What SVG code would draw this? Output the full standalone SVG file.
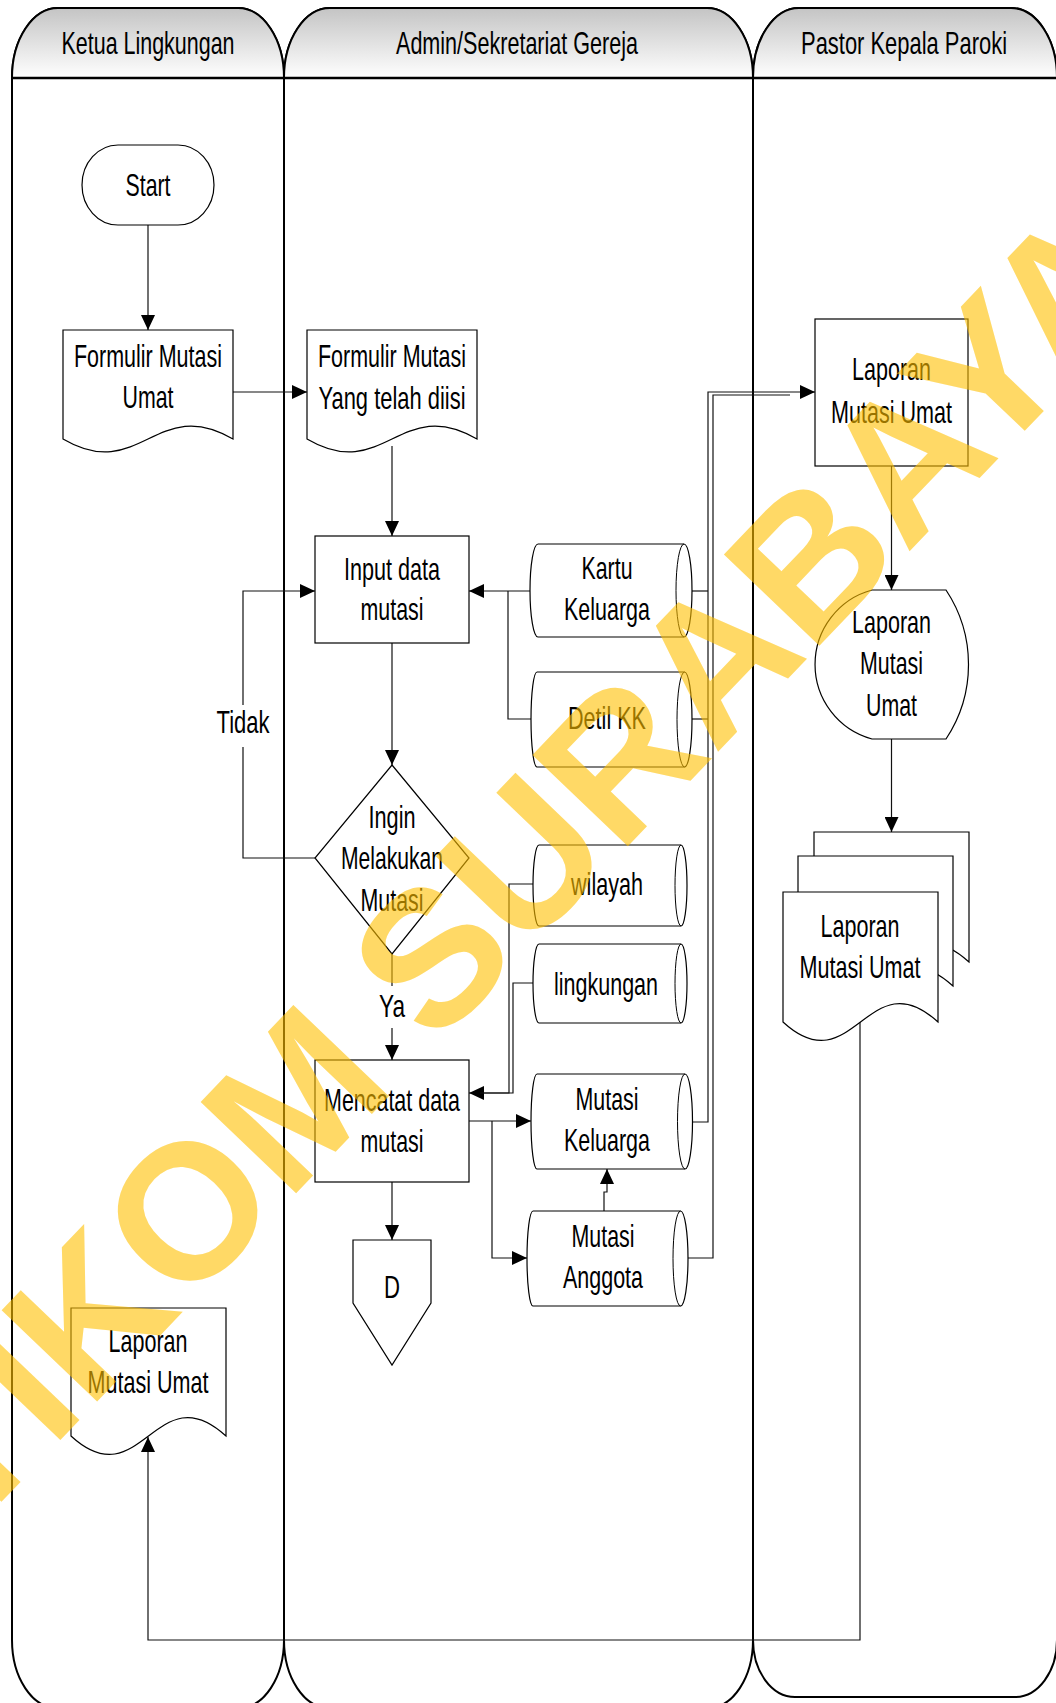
<svg xmlns="http://www.w3.org/2000/svg" width="1056" height="1703" viewBox="0 0 1056 1703">
<defs>
<linearGradient id="hg" x1="0" y1="0" x2="0" y2="1">
<stop offset="0" stop-color="#c4c4c4"/>
<stop offset="1" stop-color="#ffffff"/>
</linearGradient>
<marker id="ar" markerUnits="userSpaceOnUse" markerWidth="16" markerHeight="14" refX="15" refY="7" orient="auto">
<path d="M0,0 L15,7 L0,14 Z" fill="#000"/>
</marker>
<style>
.lane{fill:#fff;stroke:#000;stroke-width:2}
.hdr{fill:url(#hg);stroke:#000;stroke-width:2}
.sh{fill:#fff;stroke:#000;stroke-width:1.2}
.in{fill:none;stroke:#000;stroke-width:1}
.c{fill:none;stroke:#111;stroke-width:1.2}
.ca{fill:none;stroke:#111;stroke-width:1.2;marker-end:url(#ar)}
.t{font-family:"Liberation Sans",Arial,sans-serif;font-size:32px;text-anchor:middle;fill:#000}
.wm{font-family:"Liberation Sans",Arial,sans-serif;font-weight:bold;font-size:192px;fill:#FFC000;fill-opacity:0.6}
</style>
</defs>
<rect width="1056" height="1703" fill="#fff"/>
<g id="lanes">
<path class="lane" d="M12,78 A46 70 0 0 1 58,8 H238 A46 70 0 0 1 284,78 V1640 A45 68 0 0 1 239,1708 H57 A45 68 0 0 1 12,1640 Z"/>
<path class="lane" d="M284,78 A46 70 0 0 1 330,8 H707 A46 70 0 0 1 753,78 V1640 A45 68 0 0 1 708,1708 H329 A45 68 0 0 1 284,1640 Z"/>
<path class="lane" d="M753,78 A46 70 0 0 1 799,8 H1011 A46 70 0 0 1 1057,78 V1640 A42 57 0 0 1 1015,1697 H795 A42 57 0 0 1 753,1640 Z"/>
<path class="hdr" d="M12,78 A46 70 0 0 1 58,8 H238 A46 70 0 0 1 284,78 Z"/>
<path class="hdr" d="M284,78 A46 70 0 0 1 330,8 H707 A46 70 0 0 1 753,78 Z"/>
<path class="hdr" d="M753,78 A46 70 0 0 1 799,8 H1011 A46 70 0 0 1 1057,78 Z"/>
<line x1="12" y1="78" x2="1057" y2="78" stroke="#000" stroke-width="2.5"/>
<text class="t" x="148" y="54" textLength="173" lengthAdjust="spacingAndGlyphs">Ketua Lingkungan</text>
<text class="t" x="517" y="54" textLength="242" lengthAdjust="spacingAndGlyphs">Admin/Sekretariat Gereja</text>
<text class="t" x="904" y="54" textLength="206" lengthAdjust="spacingAndGlyphs">Pastor Kepala Paroki</text>
</g>
<g id="connectors">
<path class="ca" d="M148,225 V330"/>
<path class="ca" d="M233,392 H307"/>
<path class="ca" d="M392,446 V536"/>
<path class="ca" d="M392,643 V765"/>
<path class="c" d="M315,858 H243 V747"/>
<path class="ca" d="M243,705 V591 H315"/>
<text class="t" x="243" y="733" textLength="53" lengthAdjust="spacingAndGlyphs">Tidak</text>
<path class="c" d="M392,954 V986"/>
<path class="ca" d="M392,1028 V1060"/>
<text class="t" x="392" y="1017" textLength="26" lengthAdjust="spacingAndGlyphs">Ya</text>
<path class="ca" d="M392,1182 V1240"/>
<path class="ca" d="M530,591 H469"/>
<path class="c" d="M531,719 H508 V591"/>
<path class="ca" d="M533,884 H509 V1093 H469"/>
<path class="c" d="M533,983 H513 V1093 H480"/>
<path class="ca" d="M469,1121 H531"/>
<path class="ca" d="M492,1121 V1258 H527"/>
<path class="ca" d="M604,1211 V1192 H607 V1169"/>
<path class="c" d="M692,591 H708"/>
<path class="c" d="M692,719 H708"/>
<path class="c" d="M680,1258 H713 V395 H790"/>
<path class="ca" d="M692,1122 H708 V392 H815"/>
<path class="ca" d="M891.5,466 V590"/>
<path class="ca" d="M891.5,739 V832"/>
<path class="ca" d="M860,1022 V1640 H148 V1437"/>
</g>
<g id="start">
<rect class="sh" x="82" y="145" width="132" height="80" rx="36" ry="40"/>
<text class="t" x="148" y="196" textLength="45" lengthAdjust="spacingAndGlyphs">Start</text>
</g>
<g id="formulir-umat">
<path class="sh" d="M63,330 H233 V439 C156.5,394 139.5,484 63,439 Z"/>
<text class="t" x="148" y="367" textLength="148" lengthAdjust="spacingAndGlyphs">Formulir Mutasi</text>
<text class="t" x="148" y="408" textLength="51" lengthAdjust="spacingAndGlyphs">Umat</text>
</g>
<g id="formulir-diisi">
<path class="sh" d="M307,330 H477 V439 C400.5,394 383.5,484 307,439 Z"/>
<text class="t" x="392" y="367" textLength="148" lengthAdjust="spacingAndGlyphs">Formulir Mutasi</text>
<text class="t" x="392" y="409" textLength="147" lengthAdjust="spacingAndGlyphs">Yang telah diisi</text>
</g>
<g id="input">
<rect class="sh" x="315" y="536" width="154" height="107"/>
<text class="t" x="392" y="580" textLength="96" lengthAdjust="spacingAndGlyphs">Input data</text>
<text class="t" x="392" y="620" textLength="63" lengthAdjust="spacingAndGlyphs">mutasi</text>
</g>
<g id="decision">
<path class="sh" d="M392,765 L469,858 L392,954 L315,858 Z"/>
<text class="t" x="392" y="828" textLength="47" lengthAdjust="spacingAndGlyphs">Ingin</text>
<text class="t" x="392" y="869" textLength="102" lengthAdjust="spacingAndGlyphs">Melakukan</text>
<text class="t" x="392" y="911" textLength="63" lengthAdjust="spacingAndGlyphs">Mutasi</text>
</g>
<g id="mencatat">
<rect class="sh" x="315" y="1060" width="154" height="122"/>
<text class="t" x="392" y="1111" textLength="136" lengthAdjust="spacingAndGlyphs">Mencatat data</text>
<text class="t" x="392" y="1152" textLength="63" lengthAdjust="spacingAndGlyphs">mutasi</text>
</g>
<g id="offpage-d">
<path class="sh" d="M353,1240 H431 V1303 L392,1365 L353,1303 Z"/>
<text class="t" x="392" y="1298" textLength="16" lengthAdjust="spacingAndGlyphs">D</text>
</g>
<g id="kartu-keluarga">
<path class="sh" d="M538,544 H684 A8 46.5 0 0 1 684,637 H538 A8 46.5 0 0 1 538,544 Z"/>
<path class="in" d="M684,544 A8 46.5 0 0 0 684,637"/>
<text class="t" x="607" y="579" textLength="51" lengthAdjust="spacingAndGlyphs">Kartu</text>
<text class="t" x="607" y="620" textLength="86" lengthAdjust="spacingAndGlyphs">Keluarga</text>
</g>
<g id="detil-kk">
<path class="sh" d="M537,672 H684.5 A7.5 47.5 0 0 1 684.5,767 H537 A6 47.5 0 0 1 537,672 Z"/>
<path class="in" d="M684.5,672 A7.5 47.5 0 0 0 684.5,767"/>
<text class="t" x="607" y="729" textLength="78" lengthAdjust="spacingAndGlyphs">Detil KK</text>
</g>
<g id="wilayah">
<path class="sh" d="M539,845 H681 A6 40.5 0 0 1 681,926 H539 A6 40.5 0 0 1 539,845 Z"/>
<path class="in" d="M681,845 A6 40.5 0 0 0 681,926"/>
<text class="t" x="607" y="895" textLength="72" lengthAdjust="spacingAndGlyphs">wilayah</text>
</g>
<g id="lingkungan">
<path class="sh" d="M539,944 H681 A6 39.5 0 0 1 681,1023 H539 A6 39.5 0 0 1 539,944 Z"/>
<path class="in" d="M681,944 A6 39.5 0 0 0 681,1023"/>
<text class="t" x="606" y="995" textLength="104" lengthAdjust="spacingAndGlyphs">lingkungan</text>
</g>
<g id="mutasi-keluarga">
<path class="sh" d="M537,1074 H685 A7.5 47.5 0 0 1 685,1169 H537 A6 47.5 0 0 1 537,1074 Z"/>
<path class="in" d="M685,1074 A7.5 47.5 0 0 0 685,1169"/>
<text class="t" x="607" y="1110" textLength="63" lengthAdjust="spacingAndGlyphs">Mutasi</text>
<text class="t" x="607" y="1151" textLength="86" lengthAdjust="spacingAndGlyphs">Keluarga</text>
</g>
<g id="mutasi-anggota">
<path class="sh" d="M533,1211 H680.5 A7.5 47.5 0 0 1 680.5,1306 H533 A6 47.5 0 0 1 533,1211 Z"/>
<path class="in" d="M680.5,1211 A7.5 47.5 0 0 0 680.5,1306"/>
<text class="t" x="603" y="1247" textLength="63" lengthAdjust="spacingAndGlyphs">Mutasi</text>
<text class="t" x="603" y="1288" textLength="80" lengthAdjust="spacingAndGlyphs">Anggota</text>
</g>
<g id="laporan-proses">
<rect class="sh" x="815" y="319" width="153" height="147"/>
<text class="t" x="891.5" y="380" textLength="79" lengthAdjust="spacingAndGlyphs">Laporan</text>
<text class="t" x="891.5" y="423" textLength="121" lengthAdjust="spacingAndGlyphs">Mutasi Umat</text>
</g>
<g id="laporan-display">
<path class="sh" d="M872,590 H946 A134.6 134.6 0 0 1 946,739 H872 A77.2 77.2 0 0 1 872,590 Z"/>
<text class="t" x="891.5" y="633" textLength="79" lengthAdjust="spacingAndGlyphs">Laporan</text>
<text class="t" x="891.5" y="674" textLength="63" lengthAdjust="spacingAndGlyphs">Mutasi</text>
<text class="t" x="891.5" y="716" textLength="51" lengthAdjust="spacingAndGlyphs">Umat</text>
</g>
<g id="laporan-multidoc">
<path class="sh" d="M814,832 H969 V962 C899.25,898 883.75,1026 814,962 Z"/>
<path class="sh" d="M798,856 H953 V986 C883.25,922 867.75,1050 798,986 Z"/>
<path class="sh" d="M783,892 H938 V1022 C868.25,958 852.75,1086 783,1022 Z"/>
<text class="t" x="860" y="937" textLength="79" lengthAdjust="spacingAndGlyphs">Laporan</text>
<text class="t" x="860" y="978" textLength="121" lengthAdjust="spacingAndGlyphs">Mutasi Umat</text>
</g>
<g id="laporan-ketua">
<path class="sh" d="M71,1308 H226 V1436 C156.25,1372 140.75,1500 71,1436 Z"/>
<text class="t" x="148" y="1352" textLength="79" lengthAdjust="spacingAndGlyphs">Laporan</text>
<text class="t" x="148" y="1393" textLength="121" lengthAdjust="spacingAndGlyphs">Mutasi Umat</text>
</g>
<g id="watermark">
<text class="wm" x="0" y="0" text-anchor="middle" transform="translate(522,957) rotate(-46.3)">STIKOM SURABAYA</text>
</g>
</svg>
